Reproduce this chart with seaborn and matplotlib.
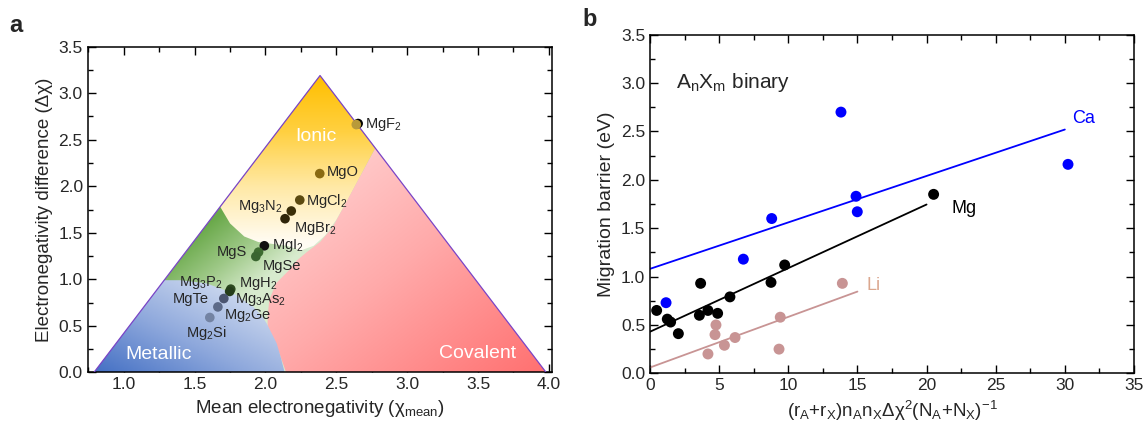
import matplotlib
matplotlib.use("Agg")
import matplotlib.pyplot as plt
import numpy as np
import pandas as pd
import seaborn as sns
from matplotlib.patches import Polygon
from matplotlib.colors import LinearSegmentedColormap
from matplotlib.ticker import MultipleLocator

# ---------------------------------------------------------------
# panel a : van Arkel-Ketelaar triangle
# ---------------------------------------------------------------
compounds = ["MgF2", "MgF2b", "MgO", "MgCl2", "Mg3N2", "MgBr2", "MgI2", "MgS", "MgSe",
             "Mg3P2", "MgH2", "MgTe", "Mg2Ge", "Mg2Si"]
chi_mean = [2.654, 2.641, 2.383, 2.242, 2.182, 2.138, 1.992, 1.951, 1.932,
            1.755, 1.747, 1.706, 1.664, 1.607]
delta_chi = [2.674, 2.663, 2.136, 1.852, 1.734, 1.651, 1.360, 1.292, 1.245,
             0.894, 0.869, 0.793, 0.703, 0.589]
dot_colors = ["#000000", "#b89a3a", "#8a6a12", "#5c4a10", "#3a2e08", "#2e2408", "#111111",
              "#3d6b30", "#3a6530", "#2d4a20", "#253d1a", "#4a5470", "#5c6a88", "#7383a3"]

point_labels = ["MgF$_2$", "MgO", "MgCl$_2$", "Mg$_3$N$_2$", "MgBr$_2$", "MgI$_2$", "MgS",
                "MgSe", "Mg$_3$P$_2$", "MgH$_2$", "MgTe", "Mg$_3$As$_2$", "Mg$_2$Ge", "Mg$_2$Si"]
label_x = [2.70, 2.43, 2.285, 2.12, 2.20, 2.045, 1.87, 1.98, 1.70, 1.81, 1.60, 1.785, 1.705, 1.58]
label_y = [2.66, 2.15, 1.84, 1.78, 1.545, 1.36, 1.29, 1.145, 0.96, 0.95, 0.79, 0.78, 0.61, 0.42]
label_ha = ["left", "left", "left", "right", "left", "left", "right", "left", "right", "left",
            "right", "left", "left", "center"]

region_names = ["Ionic", "Metallic", "Covalent"]
region_x = [2.354, 1.242, 3.50]
region_y = [2.538, 0.187, 0.205]

triangle = [(0.79, 0.0), (3.98, 0.0), (2.385, 3.19)]
ionic_poly = [(2.385, 3.19), (2.775, 2.41), (2.575, 1.84), (2.50, 1.64), (2.42, 1.47),
              (2.34, 1.36), (2.25, 1.31), (2.15, 1.36), (2.05, 1.38), (1.95, 1.40),
              (1.85, 1.46), (1.75, 1.60), (1.68, 1.78)]
covalent_poly = [(2.145, 0.0), (3.98, 0.0), (2.775, 2.41), (2.56, 1.80), (2.47, 1.55),
                 (2.385, 1.40), (2.29, 1.29), (2.22, 1.20), (2.168, 1.10), (2.074, 0.956),
                 (2.027, 0.777), (2.015, 0.598), (2.015, 0.473), (2.051, 0.347), (2.098, 0.204)]
metallic_poly = [(0.79, 0.0), (2.135, 0.0), (2.11, 0.15), (2.079, 0.312), (2.05, 0.40),
                 (2.008, 0.527), (1.968, 0.62), (1.914, 0.705), (1.773, 0.849), (1.585, 0.956),
                 (1.40, 0.99), (1.285, 0.99)]

# ---------------------------------------------------------------
# panel b : migration barrier vs descriptor
# ---------------------------------------------------------------
ca_x = [1.16, 6.75, 8.80, 13.81, 14.90, 14.99, 30.23]
ca_y = [0.73, 1.18, 1.60, 2.70, 1.83, 1.67, 2.16]
mg_x = [0.48, 1.25, 1.49, 2.05, 3.57, 3.66, 4.19, 4.89, 5.78, 8.75, 9.74, 20.51]
mg_y = [0.65, 0.56, 0.53, 0.41, 0.60, 0.93, 0.65, 0.62, 0.79, 0.94, 1.12, 1.85]
li_x = [4.19, 4.70, 4.77, 5.38, 6.15, 9.33, 9.42, 13.91]
li_y = [0.20, 0.40, 0.50, 0.29, 0.37, 0.25, 0.58, 0.93]

ca_fit_x, ca_fit_y = [0, 30], [1.08, 2.52]
mg_fit_x, mg_fit_y = [0, 20], [0.43, 1.745]
li_fit_x, li_fit_y = [0, 15], [0.06, 0.845]

ion_colors = {"Ca": "#0000ff", "Mg": "#000000", "Li": "#c89494"}

# ---------------------------------------------------------------
sns.set_style("ticks")
plt.rcParams["font.family"] = ["Liberation Sans", "DejaVu Sans"]
plt.rcParams["mathtext.default"] = "regular"

fig = plt.figure(figsize=(11.46, 4.25), dpi=100)
ax1 = fig.add_axes([0.0765, 0.124, 0.4049, 0.7661])
ax2 = fig.add_axes([0.5672, 0.1216, 0.4223, 0.7967])

# gradient regions
X0, X1, Y0, Y1 = 0.70, 4.05, 0.0, 3.3
gx, gy = np.meshgrid(np.linspace(X0, X1, 500), np.linspace(Y0, Y1, 500))


def fill_gradient(ax, verts, field, colors, z):
    cmap = LinearSegmentedColormap.from_list("g", colors)
    patch = Polygon(verts, closed=True, facecolor="none", edgecolor="none")
    ax.add_patch(patch)
    im = ax.imshow(field, extent=(X0, X1, Y0, Y1), origin="lower", cmap=cmap,
                   vmin=0, vmax=1, aspect="auto", zorder=z, interpolation="bilinear")
    im.set_clip_path(patch)


t_green = np.clip((gx - 0.79 - gy / 2) / 0.9 + (1.6 - gy) * 0.35, 0, 1)
fill_gradient(ax1, triangle, t_green, ["#6aa94a", "#9dc886", "#d8ebce"], 1)
t_ionic = np.clip((3.19 - gy) / 1.8, 0, 1)
fill_gradient(ax1, ionic_poly, t_ionic, ["#ffbf00", "#ffd040", "#ffe9a6", "#fffcf3"], 2)
t_cov = np.clip(0.5 * (gx - 2.0) / 1.98 + 0.5 * (1 - gy / 2.4), 0, 1)
fill_gradient(ax1, covalent_poly, t_cov, ["#ffdada", "#ffaaaa", "#ff7070"], 2)
t_met = np.clip(((gx - 0.79) / 1.3) * 0.6 + gy * 0.6, 0, 1)
fill_gradient(ax1, metallic_poly, t_met, ["#4470c4", "#8ea8dc", "#cdd9ef"], 2)

tri = np.array(triangle)
ax1.plot([tri[0, 0], tri[2, 0], tri[1, 0]], [tri[0, 1], tri[2, 1], tri[1, 1]],
         color="#7a44c8", lw=0.9, zorder=3)

df_a = pd.DataFrame({"compound": compounds, "chi_mean": chi_mean, "delta_chi": delta_chi})
sns.scatterplot(data=df_a, x="chi_mean", y="delta_chi", hue="compound",
                palette=dict(zip(compounds, dot_colors)), s=48, linewidth=0,
                legend=False, ax=ax1, zorder=4)

for txt, lx, ly, ha in zip(point_labels, label_x, label_y, label_ha):
    ax1.text(lx, ly, txt, ha=ha, va="center", fontsize=10.5, zorder=5)
for txt, lx, ly in zip(region_names, region_x, region_y):
    ax1.text(lx, ly, txt, ha="center", va="center", fontsize=14, color="white", zorder=5)

ax1.set_xlim(0.745, 4.02)
ax1.set_ylim(0, 3.5)
ax1.xaxis.set_major_locator(MultipleLocator(0.5))
ax1.xaxis.set_minor_locator(MultipleLocator(0.25))
ax1.yaxis.set_major_locator(MultipleLocator(0.5))
ax1.yaxis.set_minor_locator(MultipleLocator(0.25))
ax1.set_xticks([1.0, 1.5, 2.0, 2.5, 3.0, 3.5, 4.0])
ax1.set_xlabel("Mean electronegativity (χ$_{mean}$)", fontsize=13.5)
ax1.set_ylabel("Electronegativity difference (Δχ)", fontsize=13.5)

# panel b
df_b = pd.DataFrame({
    "x": ca_x + mg_x + li_x,
    "y": ca_y + mg_y + li_y,
    "ion": ["Ca"] * len(ca_x) + ["Mg"] * len(mg_x) + ["Li"] * len(li_x),
})
df_fit = pd.DataFrame({
    "x": ca_fit_x + mg_fit_x + li_fit_x,
    "y": ca_fit_y + mg_fit_y + li_fit_y,
    "ion": ["Ca"] * 2 + ["Mg"] * 2 + ["Li"] * 2,
})
sns.lineplot(data=df_fit, x="x", y="y", hue="ion", palette=ion_colors, lw=1.3,
             legend=False, ax=ax2, zorder=2)
sns.scatterplot(data=df_b, x="x", y="y", hue="ion", palette=ion_colors, s=62,
                linewidth=0, legend=False, ax=ax2, zorder=3)

ax2.text(31.35, 2.63, "Ca", color="#0000ff", fontsize=13, ha="center", va="center")
ax2.text(22.74, 1.70, "Mg", color="black", fontsize=13, ha="center", va="center")
ax2.text(16.14, 0.907, "Li", color="#dba78e", fontsize=13, ha="center", va="center")
ax2.text(1.9, 3.01, "A$_n$X$_m$ binary", fontsize=15, ha="left", va="center")

ax2.set_xlim(0, 35)
ax2.set_ylim(0, 3.5)
ax2.xaxis.set_major_locator(MultipleLocator(5))
ax2.xaxis.set_minor_locator(MultipleLocator(2.5))
ax2.yaxis.set_major_locator(MultipleLocator(0.5))
ax2.yaxis.set_minor_locator(MultipleLocator(0.25))
ax2.set_xlabel("(r$_A$+r$_X$)n$_A$n$_X$Δχ$^2$(N$_A$+N$_X$)$^{-1}$", fontsize=13.5)
ax2.set_ylabel("Migration barrier (eV)", fontsize=14)

for ax in (ax1, ax2):
    ax.yaxis.set_major_formatter(matplotlib.ticker.FormatStrFormatter("%.1f"))
    ax.tick_params(which="both", direction="in", top=True, right=True, labelsize=12.5,
                   width=1, color="black")
    ax.tick_params(which="major", length=6)
    ax.tick_params(which="minor", length=3.5)
    for sp in ax.spines.values():
        sp.set_linewidth(1.1)
        sp.set_color("black")
ax1.xaxis.set_major_formatter(matplotlib.ticker.FormatStrFormatter("%.1f"))

fig.text(0.008, 0.94, "a", fontsize=17, fontweight="bold", va="center")
fig.text(0.508, 0.955, "b", fontsize=17, fontweight="bold", va="center")

fig.savefig("out.png", dpi=100)
